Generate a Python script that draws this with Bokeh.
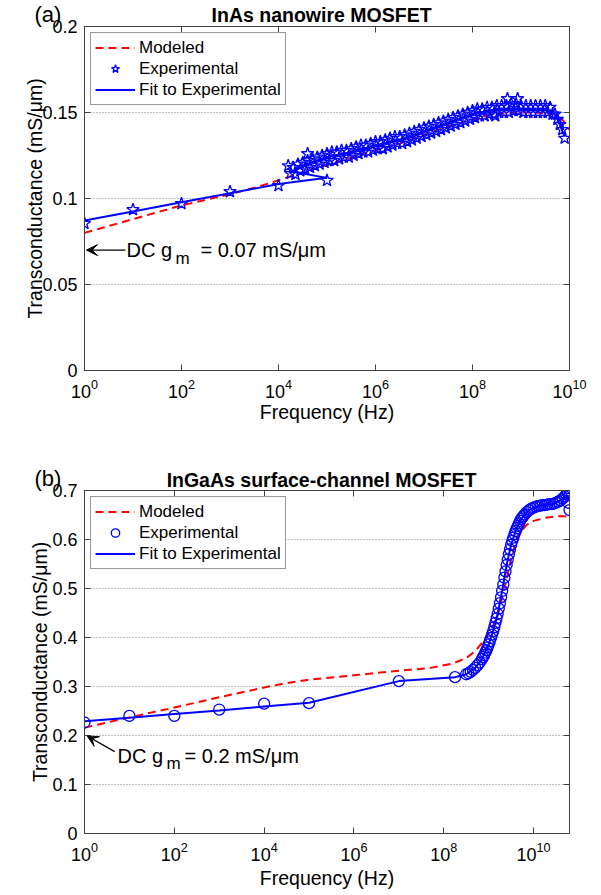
from bokeh.plotting import figure
from bokeh.layouts import column
from bokeh.models import (LogAxis, LinearAxis, FixedTicker, NumeralTickFormatter,
                          Legend, LegendItem, Label, Arrow, VeeHead)
from bokeh.embed import file_html
from bokeh.resources import INLINE

# ---------------- data : panel (a) ----------------
a_title = "InAs nanowire MOSFET"
a_tag = "(a)"
a_xticks = [1e0, 1e2, 1e4, 1e6, 1e8, 1e10]
a_yticks = [0, 0.05, 0.1, 0.15, 0.2]
a_dc_gm = 0.07

a_model_logf = [0, 1, 2, 3, 3.6, 4.6, 5.3, 5.75, 6.5, 7.4, 8.27, 8.8, 9.3, 9.7, 9.85, 10]
a_model_g = [0.080, 0.088, 0.096, 0.1025, 0.107, 0.116, 0.122, 0.126, 0.132, 0.141,
             0.148, 0.150, 0.150, 0.149, 0.146, 0.140]

# sparse low-frequency stars
a_exp_low_logf = [0, 1, 2, 3, 4, 5]
a_exp_low_g = [0.0855, 0.0935, 0.097, 0.104, 0.1075, 0.1105]
# dense sweep: upper row of the band
a_exp_hi_logf = [4.3, 4.4, 4.5, 4.6, 4.7, 4.8, 4.9, 5.0, 5.1, 5.2, 5.3, 5.4, 5.5, 5.6,
                 5.7, 5.8, 5.9, 6.0, 6.1, 6.2, 6.3, 6.4, 6.5, 6.6, 6.7, 6.8, 6.9, 7.0,
                 7.1, 7.2, 7.3, 7.4, 7.5, 7.6, 7.7, 7.8, 7.9, 8.0, 8.1, 8.2, 8.3, 8.4,
                 8.5, 8.6, 8.7, 8.8, 8.9, 9.0, 9.1, 9.2, 9.3, 9.4, 9.5, 9.6]
a_exp_hi_g = [0.118, 0.120, 0.121, 0.122, 0.123, 0.124, 0.125, 0.126, 0.127, 0.127,
              0.128, 0.128, 0.129, 0.130, 0.131, 0.131, 0.132, 0.133, 0.133, 0.134,
              0.135, 0.136, 0.136, 0.137, 0.138, 0.139, 0.140, 0.141, 0.142, 0.143,
              0.144, 0.145, 0.146, 0.147, 0.148, 0.149, 0.150, 0.151, 0.152, 0.152,
              0.153, 0.153, 0.154, 0.154, 0.154, 0.155, 0.155, 0.154, 0.154, 0.154,
              0.154, 0.154, 0.154, 0.153]
# dense sweep: lower row of the band
a_exp_lo_logf = [4.35, 4.45, 4.55, 4.65, 4.75, 4.85, 4.95, 5.05, 5.15, 5.25, 5.35, 5.45,
                 5.55, 5.65, 5.75, 5.85, 5.95, 6.05, 6.15, 6.25, 6.35, 6.45, 6.55, 6.65,
                 6.75, 6.85, 6.95, 7.05, 7.15, 7.25, 7.35, 7.45, 7.55, 7.65, 7.75, 7.85,
                 7.95, 8.05, 8.15, 8.25, 8.35, 8.45, 8.55, 8.65, 8.75, 8.85, 8.95, 9.05,
                 9.15, 9.25, 9.35, 9.45, 9.55, 9.65]
a_exp_lo_g = [0.114, 0.116, 0.117, 0.118, 0.119, 0.120, 0.121, 0.122, 0.122, 0.123,
              0.124, 0.124, 0.125, 0.126, 0.127, 0.127, 0.128, 0.129, 0.129, 0.130,
              0.131, 0.132, 0.132, 0.133, 0.134, 0.135, 0.136, 0.137, 0.138, 0.139,
              0.140, 0.141, 0.142, 0.143, 0.144, 0.145, 0.146, 0.147, 0.148, 0.148,
              0.149, 0.149, 0.150, 0.150, 0.150, 0.151, 0.151, 0.150, 0.150, 0.150,
              0.150, 0.150, 0.150, 0.149]
# scattered stars and the high-frequency roll-off
a_exp_extra_logf = [4.2, 4.25, 4.6, 8.47, 8.72, 8.93, 9.7, 9.75, 9.8, 9.85, 9.9]
a_exp_extra_g = [0.119, 0.1145, 0.126, 0.148, 0.158, 0.158, 0.149, 0.146, 0.143, 0.140,
                 0.135]

a_fit_logf = [0, 1, 2, 3, 4, 5, 4.3, 4.5, 5.0, 5.5, 6.0, 6.5, 7.0, 7.5, 8.0, 8.5,
              9.0, 9.5, 9.7, 9.8, 9.9]
a_fit_g = [0.0872, 0.0925, 0.0978, 0.1031, 0.1084, 0.112, 0.1155, 0.119, 0.124, 0.127,
           0.131, 0.134, 0.139, 0.144, 0.149, 0.152, 0.152, 0.152, 0.149, 0.143, 0.136]

# ---------------- data : panel (b) ----------------
b_title = "InGaAs surface-channel MOSFET"
b_tag = "(b)"
b_xticks = [1e0, 1e2, 1e4, 1e6, 1e8, 1e10]
b_yticks = [0, 0.1, 0.2, 0.3, 0.4, 0.5, 0.6, 0.7]
b_xmax_logf = 10.8
b_dc_gm = 0.2

b_model_logf = [0, 1, 2, 3, 4, 4.5, 5, 6, 7, 7.7, 8.2, 8.5, 8.7, 8.9, 9.1, 9.2, 9.3,
                9.4, 9.5, 9.6, 9.7, 9.85, 10.0, 10.3, 10.6, 10.8]
b_model_g = [0.216, 0.237, 0.257, 0.278, 0.298, 0.307, 0.314, 0.323, 0.332, 0.338,
             0.347, 0.358, 0.372, 0.395, 0.425, 0.445, 0.480, 0.520, 0.560, 0.595,
             0.615, 0.630, 0.638, 0.645, 0.648, 0.646]

b_exp_logf = [0, 1, 2, 3, 4, 5, 7, 8.25,
              8.5, 8.55, 8.6, 8.65, 8.7, 8.75, 8.8, 8.85, 8.875, 8.9, 8.925, 8.95,
              8.975, 9.0, 9.025, 9.05, 9.075, 9.1, 9.125, 9.15, 9.175, 9.2, 9.225,
              9.25, 9.275, 9.3, 9.325, 9.35, 9.375, 9.4, 9.425, 9.45, 9.475, 9.5,
              9.525, 9.55, 9.575, 9.6, 9.625, 9.65, 9.675, 9.7, 9.725, 9.75, 9.775,
              9.8, 9.85, 9.9, 9.95, 10.0, 10.05, 10.1, 10.15, 10.2, 10.25, 10.3,
              10.35, 10.4, 10.45, 10.5, 10.55, 10.6, 10.65, 10.7, 10.73, 10.75, 10.76,
              10.78, 10.8, 10.8, 10.77]
b_exp_g = [0.2265, 0.240, 0.240, 0.253, 0.265, 0.266, 0.311, 0.319,
           0.325, 0.327, 0.330, 0.334, 0.338, 0.343, 0.349, 0.356, 0.360, 0.364, 0.369,
           0.374, 0.380, 0.386, 0.392, 0.399, 0.406, 0.413, 0.421, 0.430, 0.439, 0.448,
           0.459, 0.470, 0.482, 0.495, 0.508, 0.522, 0.535, 0.548, 0.559, 0.570, 0.580,
           0.589, 0.597, 0.604, 0.611, 0.617, 0.623, 0.628, 0.633, 0.638, 0.642, 0.645,
           0.648, 0.651, 0.656, 0.660, 0.663, 0.665, 0.667, 0.668, 0.669, 0.670, 0.670,
           0.671, 0.672, 0.672, 0.673, 0.675, 0.677, 0.680, 0.684, 0.688, 0.692, 0.700,
           0.695, 0.705, 0.690, 0.660, 0.675]

b_fit_logf = [0, 1, 2, 3, 4, 5, 7, 8.25, 8.5, 8.7, 8.85, 9.0, 9.1, 9.2, 9.3, 9.4, 9.5,
              9.6, 9.7, 9.8, 9.9, 10.0, 10.2, 10.4, 10.6, 10.7, 10.8]
b_fit_g = [0.229, 0.236, 0.244, 0.251, 0.259, 0.267, 0.311, 0.319, 0.325, 0.338, 0.356,
           0.386, 0.413, 0.448, 0.495, 0.548, 0.589, 0.617, 0.638, 0.651, 0.660, 0.665,
           0.670, 0.672, 0.680, 0.688, 0.685]

legend_labels = ["Modeled", "Experimental", "Fit to Experimental"]
x_label = "Frequency (Hz)"
y_label = "Transconductance (mS/\u03bcm)"

FONT = "Liberation Sans"
BLUE = "#0000FF"
RED = "#FF0000"
AXC = "#404040"
W = 600
NB = "\u00a0"


def pow10(lst):
    return [10 ** e for e in lst]


def style_axes(p, xticks, yticks, yfmt, ylab_standoff, xlab_standoff,
               title, tag, title_standoff):
    for ax in p.xaxis:
        ax.ticker = FixedTicker(ticks=xticks)
    for ax in p.yaxis:
        ax.ticker = FixedTicker(ticks=yticks)
        ax.formatter = NumeralTickFormatter(format=yfmt)
    for ax in list(p.xaxis) + list(p.yaxis):
        ax.minor_tick_line_color = None
        ax.major_tick_in = 6
        ax.major_tick_out = 0
        ax.axis_line_color = AXC
        ax.major_tick_line_color = AXC
        ax.major_label_text_font = FONT
        ax.major_label_text_font_size = "18px"
        ax.major_label_text_color = "black"
        ax.axis_label_text_font = FONT
        ax.axis_label_text_font_size = "19.5px"
        ax.axis_label_text_font_style = "normal"
        ax.axis_label_text_color = "black"
    p.xaxis.axis_label = x_label
    p.xaxis.major_label_standoff = 8
    p.xaxis.axis_label_standoff = xlab_standoff
    p.yaxis.axis_label = y_label
    p.yaxis.major_label_standoff = 7
    p.yaxis.axis_label_standoff = ylab_standoff

    # top axis: inward ticks, panel tag as the label of the first tick,
    # panel title as the axis label
    top_over = {t: "" for t in xticks}
    top_over[xticks[0]] = tag + NB * 12
    top = LogAxis(ticker=FixedTicker(ticks=xticks), major_label_overrides=top_over,
                  major_label_text_font=FONT, major_label_text_font_size="22px",
                  major_label_text_color="black", major_label_standoff=0,
                  major_tick_in=6, major_tick_out=0, minor_tick_line_color=None,
                  axis_line_color=AXC, major_tick_line_color=AXC,
                  axis_label=title + NB * 2, axis_label_text_font=FONT,
                  axis_label_text_font_size="19.5px", axis_label_text_font_style="bold",
                  axis_label_text_color="black", axis_label_standoff=title_standoff)
    right = LinearAxis(ticker=FixedTicker(ticks=yticks),
                       major_label_overrides={t: "" for t in yticks},
                       major_label_standoff=0, major_tick_in=6, major_tick_out=0,
                       minor_tick_line_color=None, axis_line_color=AXC,
                       major_tick_line_color=AXC)
    p.add_layout(top, "above")
    p.add_layout(right, "right")
    p.xgrid.grid_line_color = None
    p.ygrid.grid_line_color = "#808080"
    p.ygrid.grid_line_dash = "1 2"
    p.ygrid.grid_line_width = 1
    p.outline_line_color = AXC


def panel(height, xr, yr, min_bottom, xticks, yticks, yfmt, ylab_so, xlab_so,
          title, tag, title_so,
          mf, mg, exp_sets, ff, fg, marker, msize, dc_gm, dc_text,
          arrow_tail, arrow_tip, txt_off, sub_off, rest_off, txt_dy):
    p = figure(width=W, height=height, x_axis_type="log", x_range=xr, y_range=yr,
               output_backend="svg", toolbar_location=None, title=None,
               min_border_left=84, min_border_right=31,
               min_border_top=26, min_border_bottom=min_bottom,
               background_fill_color="white", border_fill_color="white")
    style_axes(p, xticks, yticks, yfmt, ylab_so, xlab_so, title, tag, title_so)

    r_mod = p.line(pow10(mf), mg, line_color=RED, line_width=2, line_dash="8 5")
    ex_f, ex_g = [], []
    for f_list, g_list in exp_sets:
        ex_f += pow10(f_list)
        ex_g += list(g_list)
    r_exp = p.scatter(ex_f, ex_g, marker=marker, size=msize, fill_color=None,
                      line_color=BLUE, line_width=1.3)
    r_fit = p.line(pow10(ff), fg, line_color=BLUE, line_width=2)

    legend = Legend(items=[LegendItem(label=legend_labels[0], renderers=[r_mod]),
                           LegendItem(label=legend_labels[1], renderers=[r_exp]),
                           LegendItem(label=legend_labels[2], renderers=[r_fit])],
                    location="top_left", margin=6, padding=4, spacing=0,
                    glyph_width=40, glyph_height=21, label_height=21,
                    label_standoff=4, label_text_font=FONT,
                    label_text_font_size="17px", label_text_color="black",
                    border_line_color="#333333", border_line_width=1,
                    background_fill_color="white", background_fill_alpha=1)
    p.add_layout(legend)

    p.add_layout(Arrow(end=VeeHead(size=11, fill_color="black", line_color="black"),
                       x_start=arrow_tail[0], y_start=arrow_tail[1],
                       x_end=arrow_tip[0], y_end=arrow_tip[1],
                       line_color="black", line_width=1.3))
    common = dict(x=1, y=dc_gm, text_baseline="middle", text_font=FONT,
                  text_color="black")
    p.add_layout(Label(text="DC g", x_offset=txt_off, y_offset=txt_dy,
                       text_font_size="20px", **common))
    p.add_layout(Label(text="m", x_offset=sub_off, y_offset=txt_dy - 8,
                       text_font_size="17px", **common))
    p.add_layout(Label(text=dc_text, x_offset=rest_off, y_offset=txt_dy,
                       text_font_size="20px", **common))
    return p


pa = panel(464, (1, 1e10), (0, 0.2), 94, a_xticks, a_yticks, "0.[00]", -7, 0,
           a_title, a_tag, -27,
           a_model_logf, a_model_g,
           [(a_exp_low_logf, a_exp_low_g), (a_exp_hi_logf, a_exp_hi_g),
            (a_exp_lo_logf, a_exp_lo_g), (a_exp_extra_logf, a_exp_extra_g)],
           a_fit_logf, a_fit_g, "star", 13, a_dc_gm, "= 0.07 mS/\u03bcm",
           (7.0, a_dc_gm), (1.1, a_dc_gm), 42, 91, 116, 0)
pb = panel(431, (1, 10 ** b_xmax_logf), (0, 0.7), 62, b_xticks, b_yticks, "0.[0]", -2, 3,
           b_title, b_tag, -28,
           b_model_logf, b_model_g, [(b_exp_logf, b_exp_g)],
           b_fit_logf, b_fit_g, "circle", 11, b_dc_gm, "= 0.2 mS/\u03bcm",
           (4.7, 0.167), (1.15, 0.199), 33, 82, 100, -20)

layout = column(pa, pb, spacing=0)
open("out.html", "w").write(file_html(layout, INLINE))
